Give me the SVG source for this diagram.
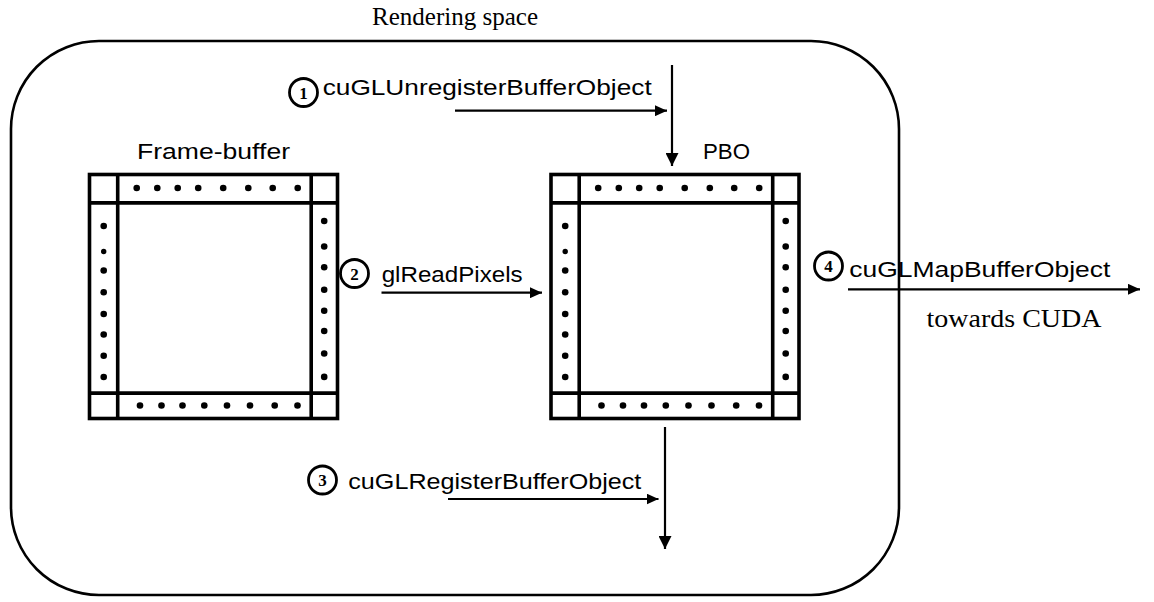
<svg xmlns="http://www.w3.org/2000/svg" xmlns:xlink="http://www.w3.org/1999/xlink" width="1154" height="602" viewBox="0 0 1154 602">
  <style>
    .frame { fill: none; stroke: #000; stroke-width: 2.6; }
    .grid { fill: #fff; stroke: #000; stroke-width: 3.6; }
    .gline { stroke: #000; stroke-width: 3.6; }
    .dot { fill: #000; }
    .conn { stroke: #000; stroke-width: 2.2; fill: none; }
    .badge { fill: #fff; stroke: #000; stroke-width: 2.8; }
    .num { font-family: "Liberation Serif", "Times New Roman", serif; font-weight: bold; font-size: 17px; text-anchor: middle; fill: #000; }
    .sans { font-family: "Liberation Sans", Arial, sans-serif; font-size: 21.5px; fill: #000; }
    .serif { font-family: "Liberation Serif", "Times New Roman", serif; font-size: 25px; fill: #000; }
  </style>
  <defs>
    <marker id="head" markerUnits="userSpaceOnUse" markerWidth="13" markerHeight="13" refX="13" refY="6.5" orient="auto">
      <path d="M0,0 L13,6.5 L0,13 Z" fill="#000"/>
    </marker>
    <marker id="headS" markerUnits="userSpaceOnUse" markerWidth="12" markerHeight="11" refX="12" refY="5.5" orient="auto">
      <path d="M0,0 L12,5.5 L0,11 Z" fill="#000"/>
    </marker>
    <!-- buffer with a dotted border band -->
    <g id="buffer">
      <rect class="grid" x="0" y="0" width="248" height="244"/>
      <line class="gline" x1="0" y1="28.4" x2="248" y2="28.4"/>
      <line class="gline" x1="0" y1="218.6" x2="248" y2="218.6"/>
      <line class="gline" x1="28.2" y1="0" x2="28.2" y2="244"/>
      <line class="gline" x1="221.7" y1="0" x2="221.7" y2="244"/>
      <g class="dot">
        <circle cx="47.2" cy="13.5" r="3.3"/><circle cx="67.8" cy="13.5" r="3.3"/>
        <circle cx="88.2" cy="13.5" r="3.3"/><circle cx="108.7" cy="13.5" r="3.3"/>
        <circle cx="133.7" cy="13.5" r="3.3"/><circle cx="158.8" cy="13.5" r="3.3"/>
        <circle cx="183.2" cy="13.5" r="3.3"/><circle cx="208.2" cy="13.5" r="3.3"/>
        <circle cx="50.5" cy="231" r="3.3"/><circle cx="72" cy="231" r="3.3"/>
        <circle cx="93" cy="231" r="3.3"/><circle cx="114.8" cy="231" r="3.3"/>
        <circle cx="137.5" cy="231" r="3.3"/><circle cx="160.5" cy="231" r="3.3"/>
        <circle cx="185.2" cy="231" r="3.3"/><circle cx="208" cy="231" r="3.3"/>
        <circle cx="14.2" cy="51.5" r="3.3"/><circle cx="14.2" cy="77" r="2.7"/>
        <circle cx="14.2" cy="96" r="3.3"/><circle cx="14.2" cy="117.7" r="3.3"/>
        <circle cx="14.2" cy="139.5" r="3.3"/><circle cx="14.2" cy="160" r="3.3"/>
        <circle cx="14.2" cy="181.3" r="3.3"/><circle cx="14.2" cy="202.5" r="3.3"/>
        <circle cx="234.7" cy="46.5" r="3.3"/><circle cx="234.7" cy="72" r="3.3"/>
        <circle cx="234.7" cy="92.7" r="3.3"/><circle cx="234.7" cy="115.3" r="3.3"/>
        <circle cx="234.7" cy="136.2" r="3.3"/><circle cx="234.7" cy="156.5" r="3.3"/>
        <circle cx="234.7" cy="179" r="3.3"/><circle cx="234.7" cy="202.4" r="3.3"/>
      </g>
    </g>
  </defs>

  <rect width="1154" height="602" fill="#fff"/>

  <!-- rendering space -->
  <g id="rendering-space">
    <rect class="frame" x="11" y="41" width="888" height="554" rx="88" ry="88"/>
    <text class="serif" x="455" y="25" text-anchor="middle" textLength="166" lengthAdjust="spacingAndGlyphs">Rendering space</text>
  </g>

  <!-- frame-buffer -->
  <g id="frame-buffer">
    <use xlink:href="#buffer" href="#buffer" transform="translate(89.5,174.5)"/>
    <text class="sans" x="213.5" y="159" text-anchor="middle" textLength="153" lengthAdjust="spacingAndGlyphs">Frame-buffer</text>
  </g>

  <!-- pixel buffer object -->
  <g id="pbo">
    <use xlink:href="#buffer" href="#buffer" transform="translate(551,174.5)"/>
    <text class="sans" x="726.5" y="159" text-anchor="middle" textLength="47" lengthAdjust="spacingAndGlyphs">PBO</text>
  </g>

  <!-- connectors -->
  <g id="connectors">
    <line class="conn" x1="672" y1="65" x2="672" y2="166" marker-end="url(#head)"/>
    <line class="conn" x1="455" y1="110.7" x2="667" y2="110.7" marker-end="url(#headS)"/>
    <line class="conn" x1="381.5" y1="292.7" x2="542" y2="292.7" marker-end="url(#headS)"/>
    <line class="conn" x1="665" y1="427" x2="665" y2="549" marker-end="url(#head)"/>
    <line class="conn" x1="448" y1="499" x2="658.5" y2="499" marker-end="url(#headS)"/>
    <line class="conn" x1="848" y1="289.3" x2="1140" y2="289.3" marker-end="url(#headS)"/>
  </g>

  <!-- step labels -->
  <g id="step-1">
    <circle class="badge" cx="303.5" cy="92.5" r="14"/>
    <text class="num" x="303.5" y="98.5">1</text>
    <text class="sans" x="322.7" y="95" textLength="329" lengthAdjust="spacingAndGlyphs">cuGLUnregisterBufferObject</text>
  </g>
  <g id="step-2">
    <circle class="badge" cx="354.5" cy="273.5" r="14"/>
    <text class="num" x="354.5" y="279.5">2</text>
    <text class="sans" x="381.7" y="281.7" textLength="141" lengthAdjust="spacingAndGlyphs">glReadPixels</text>
  </g>
  <g id="step-3">
    <circle class="badge" cx="322.5" cy="480" r="14"/>
    <text class="num" x="322.5" y="486">3</text>
    <text class="sans" x="348.3" y="489.3" textLength="293" lengthAdjust="spacingAndGlyphs">cuGLRegisterBufferObject</text>
  </g>
  <g id="step-4">
    <circle class="badge" cx="828.5" cy="266" r="14"/>
    <text class="num" x="828.5" y="272">4</text>
    <text class="sans" x="849.3" y="277.3" textLength="261" lengthAdjust="spacingAndGlyphs">cuGLMapBufferObject</text>
    <text class="serif" x="926.5" y="327.3" textLength="175" lengthAdjust="spacingAndGlyphs">towards CUDA</text>
  </g>
</svg>
